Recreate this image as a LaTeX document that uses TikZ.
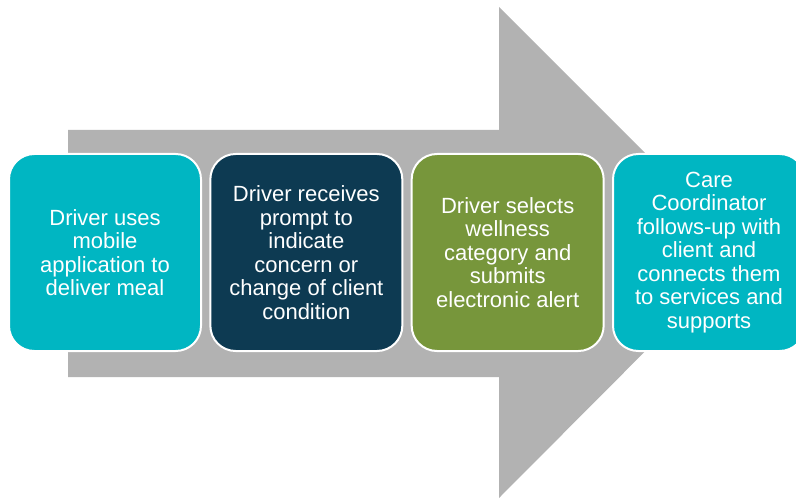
\documentclass[tikz,border=0pt]{standalone}
\usepackage{fontspec}
\setmainfont{Liberation Sans}
\usepackage{tikz}
\usetikzlibrary{positioning}
\definecolor{StepTeal}{HTML}{00B6C2}
\definecolor{StepNavy}{HTML}{0D3A52}
\definecolor{StepOlive}{HTML}{77963B}
\definecolor{ArrowGray}{HTML}{B2B2B2}

\begin{document}
\begin{tikzpicture}[
        x=0.75pt,y=-0.75pt,
        node distance=5.5pt,
        card/.style={draw=white,line width=1.5pt,rounded corners=19pt,minimum width=144pt,minimum height=147.75pt,align=center,text=white,font=\fontsize{16.5}{17.6}\selectfont}
      ]
        \clip (0,0) rectangle (796,499);
        % big gray arrow behind the steps
        \fill[ArrowGray] (68,130) -- (499,130) -- (499,7) -- (744,252) -- (499,498) -- (499,377) -- (68,377) -- cycle;
        \node[card,fill=StepTeal] (mobile) at (105,252.5) {Driver uses\\mobile\\application to\\deliver meal};
        \node[card,fill=StepNavy,right=of mobile] (prompt) {Driver receives\\prompt to\\indicate\\concern or\\change of client\\condition};
        \node[card,fill=StepOlive,right=of prompt] (alert) {Driver selects\\wellness\\category and\\submits\\electronic alert};
        \node[card,fill=StepTeal,right=of alert] (followup) {Care\\Coordinator\\follows-up with\\client and\\connects them\\to services and\\supports};
      \end{tikzpicture}
\end{document}
